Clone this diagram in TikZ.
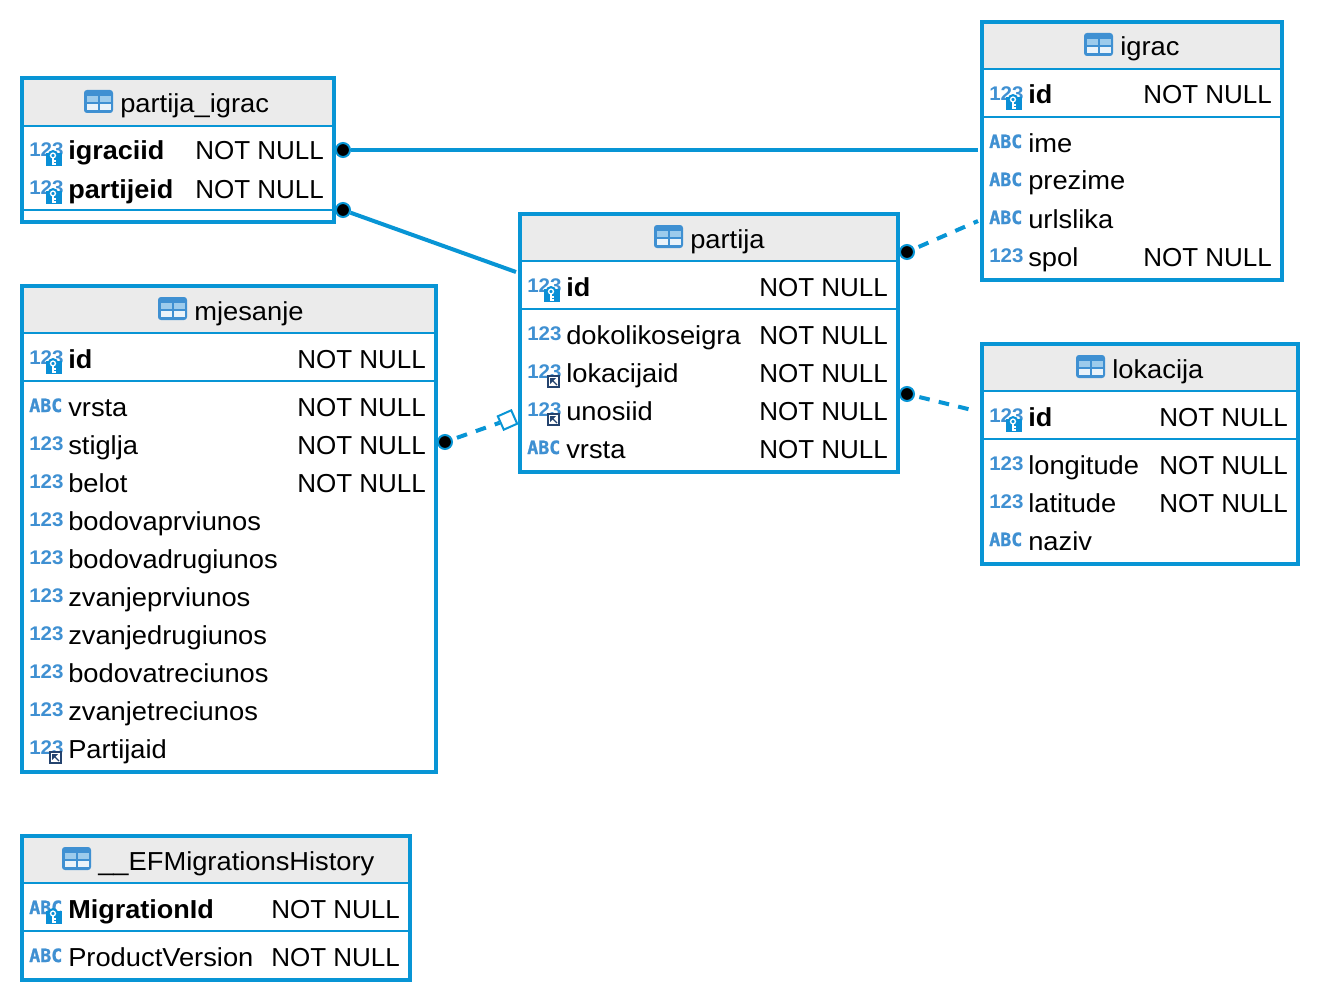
\documentclass[tikz,border=0pt]{standalone}
\usepackage{fontspec}
\setmainfont[FakeStretch=1.05,BoldFeatures={FakeStretch=1.04}]{Liberation Sans}
\newfontfamily\nnfont{Liberation Sans}
\newfontfamily\abcfont[FakeBold=1.2]{DejaVu Sans Mono Bold}
\definecolor{frameblue}{HTML}{0895D5}
\definecolor{headgray}{HTML}{EBEBEB}
\definecolor{iconblue}{HTML}{3F90D2}
\definecolor{iconlight}{HTML}{9CCBEC}
\definecolor{iconpale}{HTML}{EAF3FA}
\definecolor{keyblue}{HTML}{0A8FD6}
\definecolor{fknavy}{HTML}{24436E}
\newcount\rowno
\newcommand{\txtsize}{\fontsize{19.5}{22}\selectfont}
\tikzset{
  x=0.75pt,y=-0.75pt,
  tablebox/.style={draw=frameblue,line width=3pt,inner sep=0pt,outer sep=0pt,anchor=north west},
  sepline/.style={draw=frameblue,line width=1.5pt},
  rowtext/.style={anchor=base west,inner sep=0pt,font=\txtsize,text=black},
  typetext/.style={anchor=base west,inner sep=0pt,text=iconblue},
  rel/.style={draw=frameblue,line width=3pt},
  reldash/.style={rel,dash pattern=on 8pt off 7pt,dash phase=11.5pt},
  enddot/.style={circle,fill=black,draw=frameblue,line width=1.5pt,minimum size=10.5pt,inner sep=0pt},
  opendiamond/.style={rectangle,draw=frameblue,line width=1.5pt,fill=white,minimum size=11pt,inner sep=0pt,rotate=24},
}
% name, x1,y1,x2,y2, header line y, key line y, title x, title
\newcommand{\dbtable}[9]{%
  \pgfmathsetmacro{\tblW}{(#4-#2)*0.75}\pgfmathsetmacro{\tblH}{(#5-#3)*0.75}%
  \fill[headgray] (#2,#3) rectangle (#4,#6);%
  \node[tablebox,minimum width=\tblW pt,minimum height=\tblH pt] (#1) at (#2,#3) {};%
  \draw[sepline] (#2,#6) -- (#4,#6);%
  \ifnum#7>0 \draw[sepline] (#2,#7) -- (#4,#7);\fi
  \fill[iconblue,rounded corners=2.2pt] (#8-36,#6-36) rectangle (#8-7,#6-13);%
  \fill[iconlight] (#8-33,#6-30) rectangle (#8-22,#6-24);\fill[iconlight] (#8-20,#6-30) rectangle (#8-9,#6-24);%
  \fill[iconpale] (#8-33,#6-22) rectangle (#8-22,#6-16);\fill[iconpale] (#8-20,#6-22) rectangle (#8-9,#6-16);%
  \node[rowtext] (#1title) at (#8,#6-13) {#9};%
}
\newcommand{\typeicon}[4]{% x, y centre, kind, name
  \ifnum#3=0
    \node[typetext,font=\fontsize{14.8}{16}\selectfont\bfseries] (#4) at (#1,#2+6.5) {123};%
  \else
    \node[typetext,font=\fontsize{13.7}{14}\abcfont] (#4) at (#1,#2+6) {ABC};%
  \fi}
\newcommand{\keyicon}[2]{%
  \fill[keyblue] (#1+17,#2+3) rectangle (#1+33,#2+16);%
  \fill[keyblue] (#1+24,#2+5.5) circle (5.5);%
  \draw[white,line width=1pt] (#1+24,#2+5.5) circle (2.4);%
  \draw[white,line width=1.3pt] (#1+24,#2+8) -- (#1+24,#2+15) (#1+24,#2+11) -- (#1+27,#2+11) (#1+24,#2+14) -- (#1+27,#2+14);}
\newcommand{\fkicon}[2]{%
  \fill[fknavy] (#1+20,#2+3) rectangle (#1+33,#2+16);%
  \fill[white] (#1+22,#2+5) rectangle (#1+31,#2+14);%
  \fill[fknavy] (#1+23,#2+6) -- (#1+29,#2+6) -- (#1+23,#2+12) -- cycle;%
  \draw[fknavy,line width=1pt] (#1+25,#2+8) -- (#1+30,#2+13);}
% table, icon x, text x, NN x (0 none), y, kind (0=123,1=ABC), mark (0 none,1 key,2 fk), text
\newcommand{\fld}[8]{%
  \global\advance\rowno by 1
  \typeicon{#2}{#5}{#6}{#1t\the\rowno}%
  \ifnum#7=1 \keyicon{#2}{#5}\fi
  \ifnum#7=2 \fkicon{#2}{#5}\fi
  \node[rowtext] (#1f\the\rowno) at (#3,#5+10) {#8};%
  \ifnum#4>0 \node[rowtext,font=\txtsize\nnfont] (#1n\the\rowno) at (#4,#5+10) {NOT NULL};\fi}
\begin{document}
\begin{tikzpicture}
\useasboundingbox (0,0) rectangle (1320,1002);
\fill[white] (0,0) rectangle (1320,1002);
% tables
\dbtable{pi}{22}{78}{334}{222}{126}{210}{120}{partija\_igrac}
\fld{pi}{29}{68}{195}{150}{0}{1}{\textbf{igraciid}}
\fld{pi}{29}{68}{195}{188}{0}{1}{\textbf{partijeid}}
\dbtable{ig}{982}{22}{1282}{280}{69}{117}{1120}{igrac}
\fld{ig}{989}{1028}{1143}{94}{0}{1}{\textbf{id}}
\fld{ig}{989}{1028}{0}{142}{1}{0}{ime}
\fld{ig}{989}{1028}{0}{180}{1}{0}{prezime}
\fld{ig}{989}{1028}{0}{218}{1}{0}{urlslika}
\fld{ig}{989}{1028}{1143}{256}{0}{0}{spol}
\dbtable{pa}{520}{214}{898}{472}{261}{309}{690}{partija}
\fld{pa}{527}{566}{759}{286}{0}{1}{\textbf{id}}
\fld{pa}{527}{566}{759}{334}{0}{0}{dokolikoseigra}
\fld{pa}{527}{566}{759}{372}{0}{2}{lokacijaid}
\fld{pa}{527}{566}{759}{410}{0}{2}{unosiid}
\fld{pa}{527}{566}{759}{448}{1}{0}{vrsta}
\dbtable{lo}{982}{344}{1298}{564}{391}{439}{1112}{lokacija}
\fld{lo}{989}{1028}{1159}{416}{0}{1}{\textbf{id}}
\fld{lo}{989}{1028}{1159}{464}{0}{0}{longitude}
\fld{lo}{989}{1028}{1159}{502}{0}{0}{latitude}
\fld{lo}{989}{1028}{0}{540}{1}{0}{naziv}
\dbtable{mj}{22}{286}{436}{772}{333}{381}{194}{mjesanje}
\fld{mj}{29}{68}{297}{358}{0}{1}{\textbf{id}}
\fld{mj}{29}{68}{297}{406}{1}{0}{vrsta}
\fld{mj}{29}{68}{297}{444}{0}{0}{stiglja}
\fld{mj}{29}{68}{297}{482}{0}{0}{belot}
\fld{mj}{29}{68}{0}{520}{0}{0}{bodovaprviunos}
\fld{mj}{29}{68}{0}{558}{0}{0}{bodovadrugiunos}
\fld{mj}{29}{68}{0}{596}{0}{0}{zvanjeprviunos}
\fld{mj}{29}{68}{0}{634}{0}{0}{zvanjedrugiunos}
\fld{mj}{29}{68}{0}{672}{0}{0}{bodovatreciunos}
\fld{mj}{29}{68}{0}{710}{0}{0}{zvanjetreciunos}
\fld{mj}{29}{68}{0}{748}{0}{2}{Partijaid}
\dbtable{ef}{22}{836}{410}{980}{883}{931}{98}{\_\_EFMigrationsHistory}
\fld{ef}{29}{68}{271}{908}{1}{1}{\textbf{MigrationId}}
\fld{ef}{29}{68}{271}{956}{1}{0}{ProductVersion}
% relation ends
\node[enddot] (d1) at (343,150) {};
\node[enddot] (d2) at (343,210) {};
\node[enddot] (d3) at (907,252) {};
\node[enddot] (d4) at (907,394) {};
\node[enddot] (d5) at (445,442) {};
\node[opendiamond] (dm) at (507.5,420) {};
\coordinate (e1) at (978,150);
\coordinate (e2) at (516,272);
\coordinate (e3) at (978,221);
\coordinate (e4) at (976,411);
\draw[rel] (d1) -- (e1);
\draw[rel] (d2) -- (e2);
\draw[reldash] (d3) -- (e3);
\draw[reldash] (d4) -- (e4);
\draw[reldash] (d5) -- (dm);
\end{tikzpicture}
\end{document}
